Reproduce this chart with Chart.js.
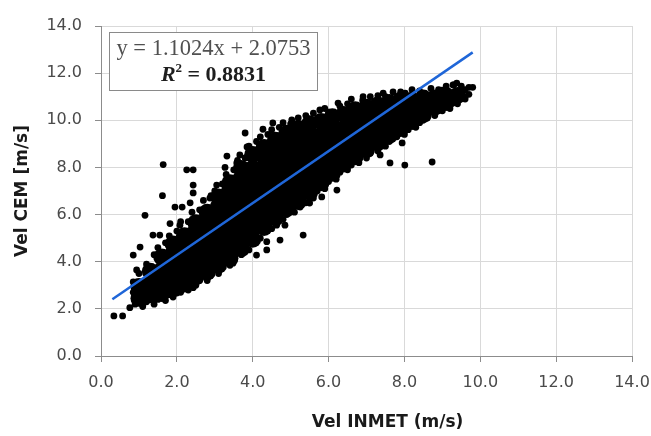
<!DOCTYPE html>
<html>
<head>
<meta charset="utf-8">
<script src="https://cdn.jsdelivr.net/npm/chart.js@4.4.0/dist/chart.umd.min.js"></script>
<style>
  html, body { margin: 0; padding: 0; background: #fff; }
</style>
</head>
<body>
<canvas id="cv_scatter" width="651" height="436"></canvas>
<script>
// tick labels, both axes 0..14 step 2
const tickLabels = ['0.0', '2.0', '4.0', '6.0', '8.0', '10.0', '12.0', '14.0'];

// dense core of the cloud, read column by column: [x, [y, y, ...]]
const denseCols = [
  [1.0, [2.45, 2.95]],
  [1.3, [2.6, 3.1, 3.6]],
  [1.6, [2.65, 3.15, 3.65, 4.2]],
  [1.9, [2.85, 3.35, 3.85, 4.35, 4.75]],
  [2.2, [3.05, 3.55, 4.05, 4.55, 5.1]],
  [2.5, [3.35, 3.85, 4.35, 4.85, 5.3, 5.65]],
  [2.8, [3.55, 4.05, 4.55, 5.05, 5.55, 6.1]],
  [3.1, [3.85, 4.35, 4.85, 5.35, 5.85, 6.35, 6.75]],
  [3.4, [4.15, 4.65, 5.15, 5.65, 6.15, 6.65, 7.1, 7.35]],
  [3.7, [4.55, 5.05, 5.55, 6.05, 6.55, 7.05, 7.55, 7.95]],
  [4.0, [4.95, 5.45, 5.95, 6.45, 6.95, 7.45, 7.95, 8.55]],
  [4.3, [5.45, 5.95, 6.45, 6.95, 7.45, 7.95, 8.45, 8.85]],
  [4.6, [5.85, 6.35, 6.85, 7.35, 7.85, 8.35, 8.85, 9.15]],
  [4.9, [6.25, 6.75, 7.25, 7.75, 8.25, 8.75, 9.25, 9.45]],
  [5.2, [6.55, 7.05, 7.55, 8.05, 8.55, 9.05, 9.55, 9.65]],
  [5.5, [6.95, 7.45, 7.95, 8.45, 8.95, 9.45, 9.85]],
  [5.8, [7.35, 7.85, 8.35, 8.85, 9.35, 9.95]],
  [6.1, [7.75, 8.25, 8.75, 9.25, 9.75, 10.15]],
  [6.4, [8.15, 8.65, 9.15, 9.65, 10.25]],
  [6.7, [8.45, 8.95, 9.45, 9.95, 10.45]],
  [7.0, [8.75, 9.25, 9.75, 10.25, 10.55]],
  [7.3, [9.05, 9.55, 10.05, 10.65]],
  [7.6, [9.35, 9.85, 10.35, 10.75]],
  [7.9, [9.65, 10.15, 10.65, 10.85]],
  [8.2, [9.95, 10.45, 10.85]],
  [8.5, [10.25, 10.75, 10.95]],
  [8.8, [10.55, 10.95]],
  [9.1, [10.75, 11.05]],
  [9.4, [11.05]]
];

// dots along the upper edge of the band
const upperEdge = [
  [1.0,3.5],[1.2,3.9],[1.4,4.3],[1.5,4.6],[1.7,4.8],[1.8,5.1],[2.0,5.3],[2.1,5.7],[2.3,5.7],[2.4,6.1],
  [2.6,6.2],[2.7,6.6],[2.9,6.8],[3.0,7.0],[3.2,7.3],[3.3,7.7],[3.5,7.9],[3.6,8.3],[3.8,8.4],[3.9,8.9],
  [4.1,9.1],[4.2,9.3],[4.4,9.4],[4.5,9.6],[4.7,9.7],[4.8,9.9],[5.0,9.85],[5.2,10.1],[5.4,10.2],[5.6,10.3],
  [5.9,10.5],[6.0,10.35],[6.3,10.6],[6.5,10.7],[6.6,10.9],[6.9,10.85],[7.1,11.0],[7.3,11.05],[7.5,11.0],[7.7,11.2],
  [7.9,11.2],[8.2,11.3],[8.4,11.25],[8.7,11.35],[8.9,11.3],[9.1,11.45],[9.3,11.5],[9.5,11.45],[9.6,11.3],[9.7,11.4]
];

// dots along the lower edge of the band
const lowerEdge = [
  [0.9,2.2],[1.1,2.1],[1.2,2.3],[1.4,2.2],[1.5,2.4],[1.7,2.35],[1.8,2.6],[1.9,2.5],[2.1,2.7],[2.3,2.8],
  [2.5,3.0],[2.6,3.2],[2.8,3.2],[2.9,3.45],[3.1,3.5],[3.2,3.8],[3.4,3.85],[3.5,4.1],[3.7,4.3],[3.8,4.6],
  [3.9,4.5],[4.0,4.9],[4.2,5.0],[4.3,5.3],[4.5,5.4],[4.6,5.7],[4.8,5.8],[4.9,6.0],[5.1,6.1],[5.2,6.4],
  [5.4,6.5],[5.6,6.7],[5.7,7.0],[5.9,7.1],[6.0,7.4],[6.2,7.5],[6.3,7.8],[6.5,7.9],[6.6,8.1],[6.8,8.2],
  [7.0,8.4],[7.1,8.6],[7.3,8.7],[7.5,8.9],[7.6,9.1],[7.8,9.3],[8.0,9.4],[8.1,9.6],[8.3,9.7],[8.4,9.9],
  [8.6,10.1],[8.8,10.2],[9.0,10.4],[9.2,10.5],[9.4,10.7],[9.6,10.9],[9.7,11.1]
];

// isolated points away from the band
const outliers = [
  [0.34,1.7],[0.57,1.7],[0.76,2.05],[0.85,2.7],[0.85,3.14],[0.94,3.65],[0.85,4.28],[1.03,4.62],[1.16,5.97],[1.37,5.13],
  [1.55,5.13],[1.64,8.12],[1.62,6.8],[1.82,5.62],[2.08,5.55],[1.95,6.32],[2.14,6.32],[2.35,6.5],[2.26,7.9],[2.43,7.9],
  [2.43,7.25],[2.43,6.92],[2.87,6.7],[3.05,7.25],[3.27,8.0],[3.32,8.48],[3.58,8.19],[3.66,8.53],[3.8,9.46],[3.85,8.87],
  [4.27,9.62],[4.53,9.89],[5.03,10.02],[5.77,10.44],[6.25,10.73],[6.91,11.0],[7.44,11.15],[8.02,11.15],[8.99,11.28],[9.28,11.5],
  [9.38,11.58],[9.8,11.4],[9.6,11.0],[9.28,10.73],[8.49,10.0],[7.62,8.19],[8.01,8.1],[8.73,8.23],[7.94,9.04],[7.36,8.53],
  [7.0,8.74],[6.7,8.3],[6.22,7.04],[5.82,6.75],[5.56,7.13],[5.5,6.49],[5.25,6.32],[4.98,6.2],[5.33,5.13],[4.85,5.55],
  [4.63,5.55],[4.72,4.92],[4.37,4.85],[4.37,4.5],[4.1,4.28],[4.37,5.35],[5.03,6.28],[3.48,3.94],[2.43,2.9],[2.0,2.67],
  [1.1,2.16],[1.03,2.25]
];

// trendline end points
const trendX = [0.3, 9.8];
const trendY = [2.41, 12.88];

const eqLine = 'y = 1.1024x + 2.0753';
const r2Value = '0.8831';
const xTitle = 'Vel INMET (m/s)';
const yTitle = 'Vel CEM [m/s]';

const toPts = arr => arr.map(p => ({ x: p[0], y: p[1] }));
const densePts = [];
denseCols.forEach(c => c[1].forEach(y => densePts.push({ x: c[0], y: y })));
const dotPts = toPts(upperEdge.concat(lowerEdge, outliers));
const trendPts = trendX.map((x, i) => ({ x: x, y: trendY[i] }));

const eqBox = {
  id: 'eqBox',
  afterDraw(chart) {
    const ctx = chart.ctx;
    const area = chart.chartArea;
    const bx = area.left + 8.5, by = area.top + 6.5, bw = 208, bh = 58;
    const cx = bx + bw / 2;
    ctx.save();
    ctx.fillStyle = '#fff';
    ctx.fillRect(bx, by, bw, bh);
    ctx.strokeStyle = '#8a8a8a';
    ctx.lineWidth = 1;
    ctx.strokeRect(bx, by, bw, bh);

    ctx.textBaseline = 'alphabetic';
    ctx.textAlign = 'center';
    ctx.fillStyle = '#505050';
    ctx.font = '22.5px "Liberation Serif"';
    ctx.fillText(eqLine, cx, by + 22);

    // R² = 0.8831
    const fR = 'italic bold 22px "Liberation Serif"';
    const fS = 'bold 13px "Liberation Serif"';
    const fV = 'bold 22px "Liberation Serif"';
    const rest = ' = ' + r2Value;
    ctx.font = fR; const wR = ctx.measureText('R').width;
    ctx.font = fS; const wS = ctx.measureText('2').width;
    ctx.font = fV; const wV = ctx.measureText(rest).width;
    let x = cx - (wR + wS + wV) / 2;
    const yb = by + 48;
    ctx.textAlign = 'left';
    ctx.fillStyle = '#1e1e1e';
    ctx.font = fR; ctx.fillText('R', x, yb); x += wR;
    ctx.font = fS; ctx.fillText('2', x, yb - 9); x += wS;
    ctx.font = fV; ctx.fillText(rest, x, yb);

    // x axis title
    ctx.textAlign = 'center';
    ctx.textBaseline = 'middle';
    ctx.font = 'bold 17px "DejaVu Sans"';
    ctx.fillStyle = '#1a1a1a';
    ctx.fillText(xTitle, area.left + (area.right - area.left) / 2 + 21, 423);
    ctx.restore();
  }
};

const tickFont = { family: 'DejaVu Sans', size: 16 };

new Chart(document.getElementById('cv_scatter').getContext('2d'), {
  type: 'scatter',
  data: {
    datasets: [
      {
        type: 'line',
        data: trendPts,
        borderColor: '#1f66d8',
        borderWidth: 2.5,
        pointRadius: 0,
        fill: false,
        order: 0
      },
      {
        data: dotPts,
        backgroundColor: '#000',
        pointRadius: 3.4,
        pointBorderWidth: 0,
        order: 1
      },
      {
        data: densePts,
        backgroundColor: '#000',
        pointRadius: 8.5,
        pointBorderWidth: 0,
        order: 2
      }
    ]
  },
  options: {
    responsive: false,
    animation: false,
    events: [],
    layout: { autoPadding: false, padding: { top: 26, right: 19, left: 0, bottom: 0 } },
    plugins: { legend: { display: false }, tooltip: { enabled: false } },
    scales: {
      x: {
        type: 'linear',
        min: 0,
        max: 14,
        afterFit: s => { s.height = 80; },
        ticks: {
          stepSize: 2,
          padding: 0,
          color: '#4a4a4a',
          font: { family: 'DejaVu Sans', size: 16, lineHeight: 2.6 },
          maxRotation: 0,
          callback: (v) => tickLabels[Math.round(v / 2)]
        },
        grid: { color: '#d9d9d9', tickColor: '#8c8c8c', tickLength: 6 },
        border: { color: '#8c8c8c' }
      },
      y: {
        type: 'linear',
        min: 0,
        max: 14,
        afterFit: s => { s.width = 101; },
        ticks: {
          stepSize: 2,
          padding: 13,
          color: '#4a4a4a',
          font: tickFont,
          callback: (v) => tickLabels[Math.round(v / 2)]
        },
        grid: { color: '#d9d9d9', tickColor: '#8c8c8c', tickLength: 6 },
        border: { color: '#8c8c8c' },
        title: {
          display: true,
          text: yTitle,
          color: '#1a1a1a',
          font: { family: 'DejaVu Sans', size: 17, weight: 'bold' },
          padding: { top: 12, bottom: 0 }
        }
      }
    }
  },
  plugins: [eqBox]
});
</script>
</body>
</html>
